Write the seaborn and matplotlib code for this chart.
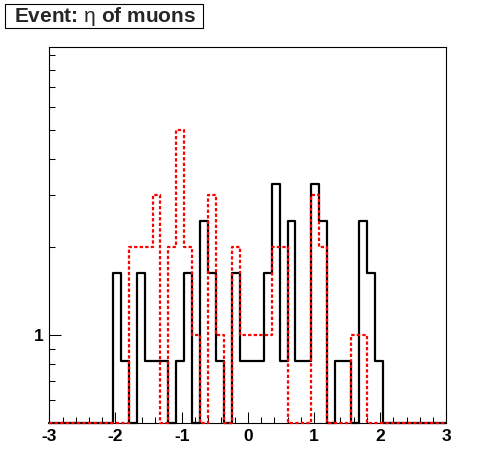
import numpy as np
import pandas as pd
import matplotlib
matplotlib.use("Agg")
import matplotlib.pyplot as plt
import matplotlib.ticker as mticker
from matplotlib.patches import Rectangle
import seaborn as sns

# ---- data -------------------------------------------------------------
bin_edges = list(np.linspace(-3.0, 3.0, 51))     # 50 bins of width 0.12
# black histogram (normalised to the red one's integral)
black_vals = [0, 0, 0, 0, 0, 0, 0, 0,
              1.633, 0.816, 0, 1.633, 0.816, 0.816, 0.816, 0,
              0.816, 1.633, 0, 2.449, 1.633, 0.816, 0, 1.633,
              0.816, 0.816, 0.816, 1.633, 3.265, 0.816, 2.449, 0.816,
              0.816, 3.265, 2.449, 0, 0.816, 0.816, 0, 2.449,
              1.633, 0.816, 0, 0, 0, 0, 0, 0, 0, 0]
# red histogram
red_vals = [0, 0, 0, 0, 0, 0, 0, 0, 0, 0,
            2, 2, 2, 3, 0, 2, 5, 2, 1, 0,
            3, 1, 0, 2, 1, 1, 1, 1, 2, 2,
            0, 0, 0, 3, 2, 0, 0, 0, 1, 1,
            0, 0, 0, 0, 0, 0, 0, 0, 0, 0]
x_ticks = [-3, -2, -1, 0, 1, 2, 3]
title_text = "Event: $\\mathrm{\\eta}$ of muons"

# ---- style --------------------------------------------------------------
sns.set_style("white")
plt.rcParams["font.family"] = ["Liberation Sans", "DejaVu Sans"]
plt.rcParams["mathtext.fontset"] = "custom"
plt.rcParams["mathtext.rm"] = "Liberation Sans"

YMIN, YMAX = 0.5, 9.6

edges_arr = np.array(bin_edges)
centers = 0.5 * (edges_arr[:-1] + edges_arr[1:])
df = pd.DataFrame({
    "eta": centers,
    "black": np.maximum(np.array(black_vals, float), YMIN),
    "red": np.maximum(np.array(red_vals, float), YMIN),
})

fig = plt.figure(figsize=(4.96, 4.72), dpi=100)
ax = fig.add_axes([0.0994, 0.1028, 0.8004, 0.7976])

sns.histplot(data=df, x="eta", weights="black", bins=bin_edges,
             element="step", fill=False, color="black",
             linewidth=1.6, ax=ax)
sns.histplot(data=df, x="eta", weights="red", bins=bin_edges,
             element="step", fill=False, color="#ff0000",
             linewidth=1.6, linestyle=(0, (1.5, 1.0)), ax=ax)
for ln in ax.lines:
    ln.set_clip_on(False)
ax.lines[1].set_zorder(4)
ax.lines[0].set_zorder(3)

ax.set_yscale("log")
ax.set_xlim(-3, 3)
ax.set_ylim(YMIN, YMAX)
ax.set_xlabel("")
ax.set_ylabel("")

ax.set_xticks(x_ticks)
ax.set_xticklabels([str(t) for t in x_ticks])
ax.xaxis.set_minor_locator(mticker.MultipleLocator(0.2))
ax.yaxis.set_major_locator(mticker.FixedLocator([1]))
ax.yaxis.set_major_formatter(mticker.FixedFormatter(["1"]))
ax.yaxis.set_minor_locator(mticker.FixedLocator([0.6, 0.7, 0.8, 0.9, 2, 3, 4, 5, 6, 7, 8, 9]))
ax.yaxis.set_minor_formatter(mticker.NullFormatter())

ax.tick_params(axis="both", which="both", direction="in", width=0.75,
               colors="black", top=False, right=False, bottom=True, left=True)
ax.tick_params(axis="x", which="major", length=8, pad=4, labelsize=12.5)
ax.tick_params(axis="x", which="minor", length=4)
ax.tick_params(axis="y", which="major", length=8.6, pad=4, labelsize=12.5)
ax.tick_params(axis="y", which="minor", length=4.3)
for lab in ax.get_xticklabels() + ax.get_yticklabels():
    lab.set_fontweight("bold")

for sp in ax.spines.values():
    sp.set_visible(True)
    sp.set_linewidth(0.8)
    sp.set_color("black")

# title box
W, H = 496.0, 472.0
fig.patches.append(Rectangle((5 / W, 1 - 28 / H), 198 / W, 24 / H,
                             transform=fig.transFigure, facecolor="white",
                             edgecolor="black", linewidth=0.8))
fig.text(14 / W, 1 - 16.5 / H, title_text, fontsize=15, fontweight="bold",
         ha="left", va="center")

fig.savefig("out.png", dpi=100)
